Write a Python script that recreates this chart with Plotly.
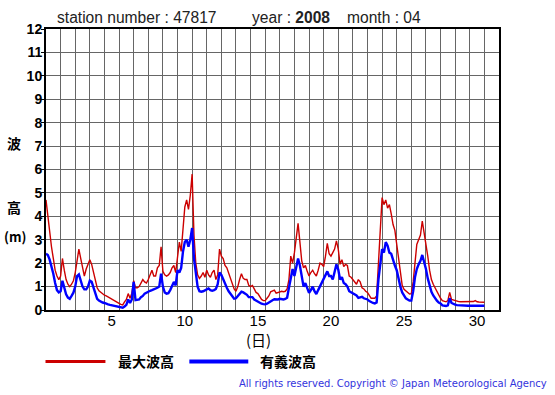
import plotly.graph_objects as go

# ---- data: 3-hourly readings, April 2008, station 47817 ----
START_DAY = 1
STEP_HOURS = 3

max_wave = [
    4.7, 4.0, 3.4, 2.7, 2.2, 1.7, 1.45, 1.3,
    1.45, 2.2, 1.7, 1.3, 1.1, 1.0, 1.1, 1.25,
    1.6, 2.15, 2.6, 2.2, 1.75, 1.45, 1.75, 2.0,
    2.15, 1.95, 1.6, 1.2, 0.95, 0.82, 0.75, 0.68,
    0.63, 0.6, 0.55, 0.5, 0.46, 0.4, 0.35, 0.3,
    0.28, 0.24, 0.22, 0.35, 0.45, 0.7, 0.5, 0.72,
    1.25, 0.95, 0.95, 1.0, 1.15, 1.3, 1.2, 1.15,
    1.3, 1.5, 1.7, 1.45, 1.45, 1.8, 1.9, 2.7,
    1.65, 1.5, 1.45, 1.5, 1.6, 1.8, 1.9, 1.6,
    2.2, 2.9, 2.5, 3.4, 4.4, 4.7, 4.3, 4.9,
    5.8, 3.2, 2.0, 1.5, 1.35, 1.45, 1.6, 1.4,
    1.7, 1.5, 1.4, 1.6, 1.7, 1.3, 1.5, 2.6,
    2.3, 2.2, 1.9, 1.8, 1.55, 1.35, 1.1, 0.9,
    0.8, 1.0, 1.3, 1.55, 1.35, 1.3, 1.3, 1.05,
    1.0, 1.05, 0.9, 0.75, 0.7, 0.55, 0.45, 0.4,
    0.4, 0.5, 0.6, 0.78, 0.8, 0.85, 0.72, 0.75,
    0.8, 0.8, 0.78, 0.8, 0.9, 1.3, 2.3, 2.0,
    2.45, 3.0, 3.7, 2.9, 2.1, 1.8, 1.9, 1.65,
    1.45, 1.6, 1.7, 1.55, 1.45, 1.7, 2.0, 1.95,
    1.85, 2.3, 2.85, 2.4, 2.3, 2.45, 2.6, 2.95,
    2.6, 1.95, 2.15, 1.85, 1.95, 1.9, 1.45, 1.4,
    1.3, 1.15, 1.1, 1.3, 1.2, 0.95, 0.9, 0.8,
    0.75, 0.62, 0.5, 0.5, 0.5, 0.6, 2.0, 3.0,
    4.8, 4.5, 4.7, 4.35, 4.5, 4.1, 3.65, 3.4,
    2.8, 2.1, 1.5, 1.05, 0.88, 0.8, 0.72, 0.68,
    0.7, 1.2, 2.0, 2.8, 3.0, 3.2, 3.8, 3.35,
    2.9, 2.3, 1.7, 1.3, 1.1, 0.95, 0.8, 0.6,
    0.5, 0.4, 0.37, 0.35, 0.4, 0.75, 0.45, 0.42,
    0.4, 0.38, 0.36, 0.35, 0.35, 0.36, 0.35, 0.34,
    0.33, 0.34, 0.36, 0.4, 0.35, 0.34, 0.33, 0.33,
    0.33,
]

sig_wave = [
    2.4, 2.35, 2.15, 1.9, 1.55, 1.15, 0.85, 0.75,
    0.8, 1.25, 1.0, 0.67, 0.53, 0.48, 0.6, 0.74,
    1.0, 1.45, 1.52, 1.3, 1.0, 0.88, 0.88, 1.0,
    1.25, 1.2, 0.95, 0.65, 0.48, 0.4, 0.35, 0.32,
    0.3, 0.26, 0.24, 0.22, 0.2, 0.17, 0.15, 0.13,
    0.11, 0.1, 0.1, 0.15, 0.22, 0.45, 0.3, 0.45,
    1.2, 0.42, 0.42, 0.45, 0.55, 0.6, 0.7, 0.75,
    0.8, 0.82, 0.85, 0.88, 0.9, 0.95, 1.0, 1.55,
    1.0, 0.75, 0.7, 0.72, 0.85, 1.0, 1.2, 1.05,
    1.7, 1.6, 1.8, 2.5, 2.9, 3.0, 2.7, 3.0,
    3.5, 2.2, 1.5, 1.0, 0.8, 0.78, 0.8, 0.85,
    0.88, 0.92, 0.85, 0.82, 0.85, 0.9, 1.1, 1.6,
    1.5, 1.3, 1.1, 0.95, 0.8, 0.7, 0.55, 0.48,
    0.5, 0.6, 0.72, 0.78, 0.75, 0.7, 0.65, 0.55,
    0.55, 0.55, 0.45, 0.4, 0.36, 0.3, 0.27, 0.25,
    0.24, 0.27, 0.32, 0.4, 0.42, 0.46, 0.44, 0.45,
    0.48, 0.46, 0.45, 0.47, 0.52, 0.95, 1.45, 1.75,
    1.45, 1.85, 2.2, 1.9, 1.4, 1.0, 1.15, 0.9,
    0.73, 0.85, 1.0, 0.8, 0.68, 0.85, 1.0, 1.2,
    1.35, 1.5, 1.65, 1.45, 1.45, 1.3, 1.6, 1.95,
    1.73, 1.3, 1.4, 1.15, 1.1, 1.0, 0.8, 0.75,
    0.73, 0.68, 0.62, 0.52, 0.55, 0.56, 0.5, 0.48,
    0.45, 0.38, 0.32, 0.3, 0.28, 0.32, 1.3, 1.9,
    2.6, 2.45, 2.9, 2.75, 2.45, 2.4, 2.1, 1.9,
    1.7, 1.3, 1.0, 0.75, 0.6, 0.5, 0.45, 0.4,
    0.4, 0.8, 1.4, 1.75, 1.95, 2.1, 2.35, 2.1,
    1.75, 1.35, 1.0, 0.78, 0.62, 0.5, 0.4, 0.32,
    0.28, 0.2, 0.18, 0.17, 0.2, 0.5, 0.3, 0.25,
    0.23, 0.21, 0.2, 0.2, 0.19, 0.2, 0.19, 0.18,
    0.18, 0.18, 0.19, 0.2, 0.19, 0.18, 0.18, 0.18,
    0.18,
]

day_labels = ["5", "10", "15", "20", "25", "30"]
y_ticks = list(range(0, 13))
series_names = ["最大波高", "有義波高"]

# time axis in days (day 1 00:00 = 1.0)
times = [START_DAY + i * STEP_HOURS / 24 for i in range(len(max_wave))]

W, H = 555, 395
L, R, T, B = 45.5, 499.0, 29.0, 310.5
PW, PH = R - L, B - T


def px(x):
    return (x - L) / PW


def py(y):
    return (B - y) / PH


RED = "#cc0000"
BLUE = "#0000ff"
LAT = "Liberation Sans, Arial, sans-serif"
CJK = "Noto Sans CJK JP, sans-serif"

fig = go.Figure()
fig.add_trace(go.Scatter(x=times, y=max_wave, mode="lines", name=series_names[0],
                         line=dict(color=RED, width=1.4)))
fig.add_trace(go.Scatter(x=times, y=sig_wave, mode="lines", name=series_names[1],
                         line=dict(color=BLUE, width=2.4)))

fig.update_layout(
    width=W, height=H,
    margin=dict(l=L, r=W - R, t=T, b=H - B, pad=0),
    paper_bgcolor="white", plot_bgcolor="white",
    showlegend=False, hovermode=False,
    xaxis=dict(
        range=[1, 32], tickmode="array",
        tickvals=[int(d) + 0.5 for d in day_labels], ticktext=day_labels,
        showgrid=False, ticks="", zeroline=False, ticklabelstandoff=-4,
        tickfont=dict(family=LAT, size=15, color="black"),
        showline=True, linecolor="black", linewidth=2, mirror=True,
        minor=dict(tick0=1, dtick=1, showgrid=True, gridcolor="#666666", gridwidth=1, ticks=""),
    ),
    yaxis=dict(
        range=[0, 12], tickmode="array", tickvals=y_ticks,
        ticktext=[f"<b>{v}</b>" for v in y_ticks],
        showgrid=True, gridcolor="#666666", gridwidth=1, zeroline=False,
        ticks="outside", ticklen=3, tickcolor="black", ticklabelstandoff=-4,
        tickfont=dict(family=LAT, size=14, color="black"),
        showline=True, linecolor="black", linewidth=2, mirror=True,
    ),
)

ann = []
# title
ann.append(dict(x=px(55), y=py(17), xref="paper", yref="paper", xanchor="left", yanchor="middle",
                text="station number : 47817", showarrow=False,
                font=dict(family=LAT, size=15.6, color="#222222")))
ann.append(dict(x=px(250), y=py(17), xref="paper", yref="paper", xanchor="left", yanchor="middle",
                text="year : <b>2008</b>", showarrow=False,
                font=dict(family=LAT, size=15.6, color="#222222")))
ann.append(dict(x=px(345), y=py(17), xref="paper", yref="paper", xanchor="left", yanchor="middle",
                text="month : 04", showarrow=False,
                font=dict(family=LAT, size=15.6, color="#222222")))
# y axis title
for txt, yy in [("波", 143), ("高", 207)]:
    ann.append(dict(x=px(13), y=py(yy), xref="paper", yref="paper", xanchor="center", yanchor="middle",
                    text=f"<b>{txt}</b>", showarrow=False, font=dict(family=CJK, size=14, color="black")))
ann.append(dict(x=px(14), y=py(237), xref="paper", yref="paper", xanchor="center", yanchor="middle",
                text="<b>(m)</b>", showarrow=False, font=dict(family=CJK, size=13, color="black")))
# x axis title
ann.append(dict(x=px(258), y=py(340), xref="paper", yref="paper", xanchor="center", yanchor="middle",
                text="(日)", showarrow=False, font=dict(family=CJK, size=15, color="black")))
# legend
leg = [(45, 105, RED, 3, 116, series_names[0]), (189, 248, BLUE, 4, 258, series_names[1])]
shapes = []
for x0, x1, col, w, tx, name in leg:
    shapes.append(dict(type="line", xref="paper", yref="paper", x0=px(x0), x1=px(x1),
                       y0=py(362), y1=py(362), line=dict(color=col, width=w)))
    ann.append(dict(x=px(tx), y=py(362), xref="paper", yref="paper", xanchor="left", yanchor="middle",
                    text=f"<b>{name}</b>", showarrow=False, font=dict(family=CJK, size=14, color="black")))
# copyright
ann.append(dict(x=px(549), y=py(384), xref="paper", yref="paper", xanchor="right", yanchor="middle",
                text="All rights reserved. Copyright © Japan Meteorological Agency", showarrow=False,
                font=dict(family="DejaVu Sans, sans-serif", size=10, color="#3333dd")))

fig.update_layout(annotations=ann, shapes=shapes)
fig.write_html("out.html", config={"displayModeBar": False, "staticPlot": True},
               post_script="document.body.style.margin='0px';document.body.style.overflow='hidden';")
